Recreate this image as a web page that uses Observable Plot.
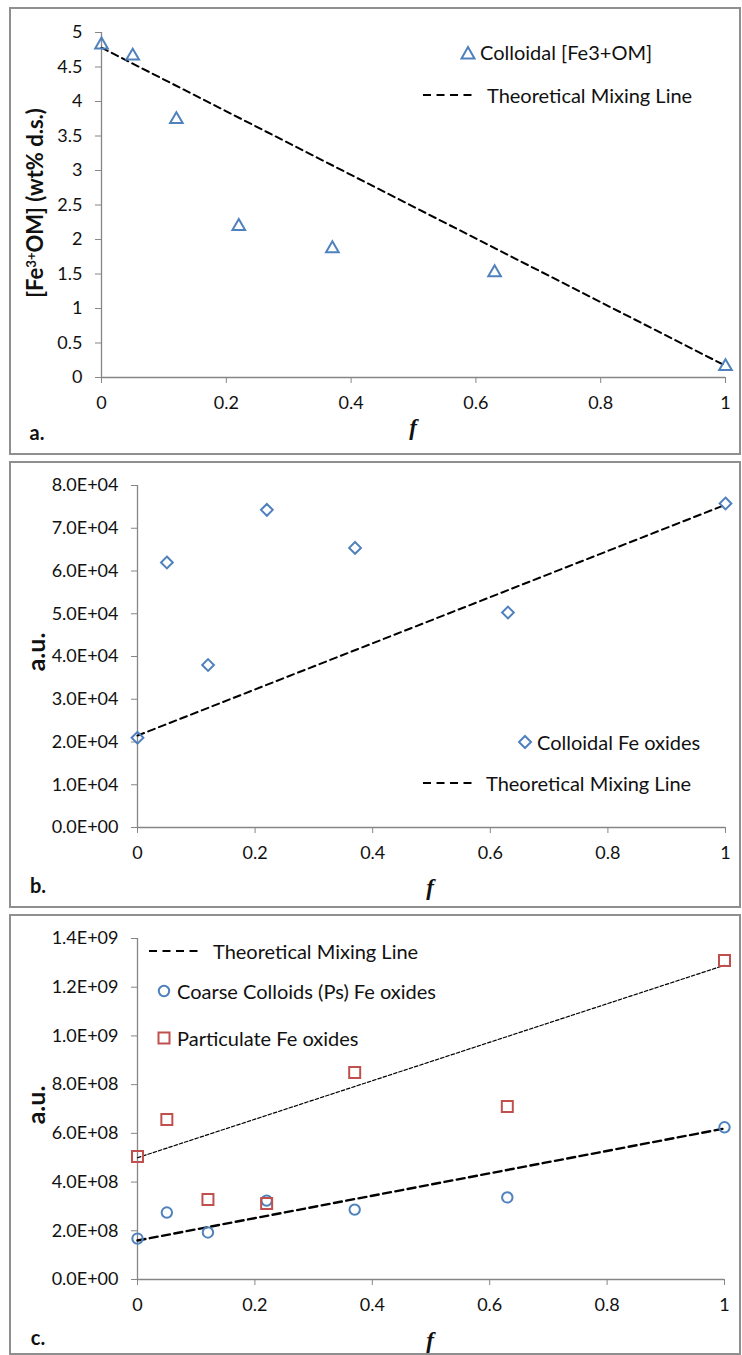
<!DOCTYPE html>
<html><head><meta charset="utf-8">
<script src="https://cdn.jsdelivr.net/npm/d3@7"></script>
<script src="https://cdn.jsdelivr.net/npm/@observablehq/plot@0.6"></script>
<style>
html,body{margin:0;padding:0;background:#fff;}
#page{position:relative;width:742px;height:1355px;background:#fff;font-family:Lato,"Open Sans",sans-serif;color:#111;overflow:hidden;}
.panel{position:absolute;left:9px;width:732px;border:2px solid #8f8f8f;box-sizing:border-box;background:#fff;}
.panel svg{display:block;}
.panel svg g[aria-label$="-axis tick"]{stroke:#868686;}
.panel svg .tick line,.panel svg .domain{stroke:#868686;}
.ov{position:absolute;white-space:nowrap;line-height:1;}
.ytitle{font-weight:bold;transform:translate(-50%,-50%) rotate(-90deg);}
.ytitle sup{font-size:0.6em;vertical-align:0.55em;line-height:0;}
.plab{font-weight:bold;font-size:20px;transform:translate(-50%,-50%);}
.fx{font-family:"Liberation Serif",serif;font-style:italic;font-weight:bold;font-size:23px;transform:translate(-50%,-50%);}
.leg{font-size:20px;transform:translate(0,-50%);color:#111;}
.sym{position:absolute;overflow:visible;}
</style></head>
<body><div id="page"></div>
<script>
// ---------- data ----------
const fValues = [0, 0.05, 0.12, 0.22, 0.37, 0.63, 1];
const xTicks = [0, 0.2, 0.4, 0.6, 0.8, 1];

// panel a
const colloidalFe3OM = [4.82, 4.66, 3.74, 2.19, 1.87, 1.52, 0.16];
const mixF = [0, 1];
const mixLineA = [4.78, 0.17];
const yTicksA = [0, 0.5, 1, 1.5, 2, 2.5, 3, 3.5, 4, 4.5, 5];

// panel b
const colloidalFeOxides = [21000, 62000, 38000, 74300, 65400, 50300, 75800];
const mixLineB = [21500, 75500];
const yTicksB = [0, 10000, 20000, 30000, 40000, 50000, 60000, 70000, 80000];

// panel c
const coarseColloidsFe = [1.68e8, 2.75e8, 1.93e8, 3.24e8, 2.87e8, 3.37e8, 6.25e8];
const particulateFe = [5.05e8, 6.57e8, 3.28e8, 3.12e8, 8.5e8, 7.1e8, 1.31e9];
const mixLineCoarse = [1.6e8, 6.2e8];
const mixLineParticulate = [5.0e8, 1.29e9];
const yTicksC = [0, 2e8, 4e8, 6e8, 8e8, 1e9, 1.2e9, 1.4e9];

const BLUE = "#4F81BD", RED = "#C0504D";

// ---------- helpers ----------
const table = (xs, ys) => xs.map((f, i) => ({f, v: ys[i]}));
function sci(v) {
  if (v === 0) return "0.0E+00";
  const e = Math.floor(Math.log10(v) + 1e-9);
  const m = v / Math.pow(10, e);
  return m.toFixed(1) + "E+" + String(e).padStart(2, "0");
}
const page = document.getElementById("page");

function panel(top, height, cfg) {
  const div = document.createElement("div");
  div.className = "panel";
  div.style.top = top + "px";
  div.style.height = height + "px";
  const chart = Plot.plot({
    width: 728, height: height - 4,
    marginLeft: cfg.ml, marginRight: cfg.mr, marginTop: cfg.mt, marginBottom: cfg.mb,
    style: {fontFamily: "Lato, 'Open Sans', sans-serif", fontSize: "18px", color: "#111", background: "transparent", overflow: "visible"},
    x: {domain: [0, 1], ticks: xTicks, tickFormat: d => String(d), tickSize: 6, tickPadding: 13, label: null},
    y: {domain: cfg.yDomain, ticks: cfg.yTicks, tickFormat: cfg.yFormat, tickSize: 6, tickPadding: 13, label: null},
    marks: [
      Plot.ruleY([cfg.yDomain[0]], {stroke: "#868686", strokeWidth: 1.3}),
      Plot.ruleX([0], {stroke: "#868686", strokeWidth: 1.3}),
      ...cfg.marks
    ]
  });
  div.appendChild(chart);
  page.appendChild(div);
}

function ov(cls, x, y, html, extra) {
  const d = document.createElement("div");
  d.className = "ov " + cls;
  d.style.left = x + "px";
  d.style.top = y + "px";
  d.innerHTML = html;
  if (extra) Object.assign(d.style, extra);
  page.appendChild(d);
}
function sym(x, y, inner) {
  const s = document.createElementNS("http://www.w3.org/2000/svg", "svg");
  s.setAttribute("class", "sym");
  s.setAttribute("width", 20); s.setAttribute("height", 20);
  s.style.left = (x - 10) + "px"; s.style.top = (y - 10) + "px";
  s.innerHTML = `<g transform="translate(10,10)">${inner}</g>`;
  page.appendChild(s);
}
function dashSwatch(x1, x2, y, w, dash) {
  const s = document.createElementNS("http://www.w3.org/2000/svg", "svg");
  s.setAttribute("class", "sym");
  s.setAttribute("width", x2 - x1); s.setAttribute("height", 6);
  s.style.left = x1 + "px"; s.style.top = (y - 3) + "px";
  s.innerHTML = `<line x1="0" x2="${x2 - x1}" y1="3" y2="3" stroke="#000" stroke-width="${w}" stroke-dasharray="${dash}"/>`;
  page.appendChild(s);
}

// ---------- panel a ----------
panel(7, 448, {
  ml: 90, mr: 14, mt: 23, mb: 76,
  yDomain: [0, 5], yTicks: yTicksA, yFormat: d => String(d),
  marks: [
    Plot.line(table(mixF, mixLineA), {x: "f", y: "v", stroke: "#000", strokeWidth: 2, strokeDasharray: "7,4.5"}),
    Plot.dot(table(fValues, colloidalFe3OM), {x: "f", y: "v", symbol: "triangle", r: 4.7, stroke: BLUE, strokeWidth: 2, fill: "none"})
  ]
});

// ---------- panel b ----------
panel(461, 447, {
  ml: 126, mr: 14, mt: 22, mb: 79,
  yDomain: [0, 80000], yTicks: yTicksB, yFormat: sci,
  marks: [
    Plot.line(table(mixF, mixLineB), {x: "f", y: "v", stroke: "#000", strokeWidth: 2, strokeDasharray: "7,4.5"}),
    Plot.dot(table(fValues, colloidalFeOxides), {x: "f", y: "v", symbol: "diamond2", r: 5.3, stroke: BLUE, strokeWidth: 2, fill: "none"})
  ]
});

// ---------- panel c ----------
panel(914, 441, {
  ml: 126, mr: 15, mt: 22, mb: 74,
  yDomain: [0, 1.4e9], yTicks: yTicksC, yFormat: sci,
  marks: [
    Plot.line(table(mixF, mixLineParticulate), {x: "f", y: "v", stroke: "#000", strokeWidth: 1.2, strokeDasharray: "3.5,2"}),
    Plot.line(table(mixF, mixLineCoarse), {x: "f", y: "v", stroke: "#000", strokeWidth: 2.4, strokeDasharray: "8,4.5"}),
    Plot.dot(table(fValues, coarseColloidsFe), {x: "f", y: "v", symbol: "circle", r: 5.2, stroke: BLUE, strokeWidth: 2, fill: "none"}),
    Plot.dot(table(fValues, particulateFe), {x: "f", y: "v", symbol: "square", r: 6.2, stroke: RED, strokeWidth: 2, fill: "none"})
  ]
});

// ---------- texts & legends ----------
ov("ytitle", 35, 203, "[Fe<sup>3+</sup>OM] (wt% d.s.)", {fontSize: "22px"});
ov("plab", 37, 432, "a.");
ov("fx", 413, 427, "f");
ov("leg", 480, 52, "Colloidal [Fe3+OM]");
sym(468, 53, `<path d="M0,-6L6.5,5.5L-6.5,5.5Z" fill="none" stroke="${BLUE}" stroke-width="2"/>`);
dashSwatch(423, 472, 95, 2, "8,5.5");
ov("leg", 487, 95, "Theoretical Mixing Line");

ov("ytitle", 35, 652, "a.u.", {fontSize: "25px"});
ov("plab", 38, 885, "b.");
ov("fx", 430, 887, "f");
sym(525, 742, `<path d="M0,-6L6,0L0,6L-6,0Z" fill="none" stroke="${BLUE}" stroke-width="2"/>`);
ov("leg", 537, 742, "Colloidal Fe oxides");
dashSwatch(423, 472, 783, 2, "8,5.5");
ov("leg", 486, 783, "Theoretical Mixing Line");

ov("ytitle", 35, 1105, "a.u.", {fontSize: "25px"});
ov("plab", 38, 1337, "c.");
ov("fx", 430, 1340, "f");
dashSwatch(149, 199, 951, 2, "8,5.5");
ov("leg", 213, 951, "Theoretical Mixing Line");
sym(164, 991, `<circle r="5.2" fill="none" stroke="${BLUE}" stroke-width="2"/>`);
ov("leg", 177, 991, "Coarse Colloids (Ps) Fe oxides");
sym(164, 1038, `<rect x="-5.5" y="-5.5" width="11" height="11" fill="none" stroke="${RED}" stroke-width="2"/>`);
ov("leg", 177, 1038, "Particulate Fe oxides");
</script>
</body></html>
